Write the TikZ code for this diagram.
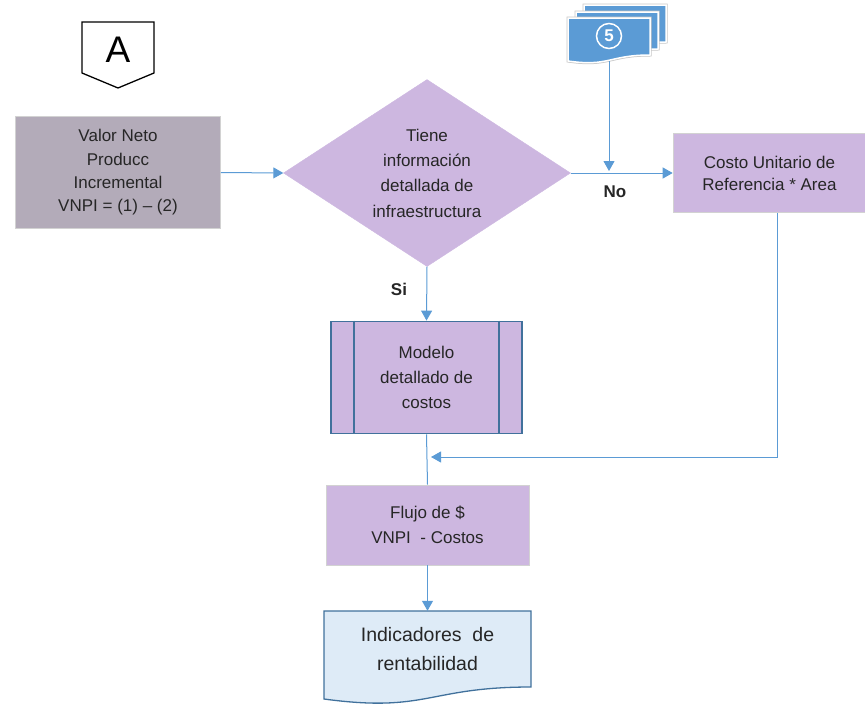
\documentclass[tikz,border=0pt]{standalone}
\usepackage{fontspec}
\setmainfont{Liberation Sans}
\usetikzlibrary{shapes.geometric,arrows.meta}
\definecolor{lineblue}{HTML}{5B9BD5}
\definecolor{lilac}{HTML}{CDB7E0}
\definecolor{valorgray}{HTML}{B3ABB9}
\definecolor{edgeblue}{HTML}{41719C}
\definecolor{paleblue}{HTML}{DEEBF7}
\definecolor{docblue}{HTML}{5B9BD5}
\tikzset{
  txt/.style={font=\fontsize{17}{24}\selectfont, align=center, text=black!85},
  box/.style={txt, rectangle, draw=gray!35, line width=0.6pt, inner sep=0pt},
  flow/.style={draw=lineblue, line width=1pt, -{Triangle[width=11pt,length=10pt]}},
  plain/.style={draw=lineblue, line width=1pt},
  lbl/.style={font=\fontsize{17}{20}\selectfont\bfseries, text=black!85},
  page/.style={fill=docblue, draw=white, line width=1.5pt},
  pageshadow/.style={draw=gray!45, line width=3pt}
}
\begin{document}
\begin{tikzpicture}[x=1pt,y=-1pt]
\useasboundingbox (0,0) rectangle (865,707);

% off-page connector A
\draw[line width=1.3pt, fill=white] (82,22) -- (154,22) -- (154,73) -- (118,88) -- (82,73) -- cycle;
\node[font=\fontsize{37}{37}\selectfont, inner sep=0pt] (offA) at (118,50) {A};

% multi-document 5
\foreach \dx/\dy in {16/-13, 8/-6} {
  \path[pageshadow] (568+\dx,18+\dy) -- (650+\dx,18+\dy) -- (650+\dx,55+\dy)
     .. controls (609+\dx,55+\dy) and (609+\dx,67+\dy) .. (568+\dx,61+\dy) -- cycle;
  \path[page] (568+\dx,18+\dy) -- (650+\dx,18+\dy) -- (650+\dx,55+\dy)
     .. controls (609+\dx,55+\dy) and (609+\dx,67+\dy) .. (568+\dx,61+\dy) -- cycle;
}
\path[pageshadow] (568,18) -- (650,18) -- (650,55) .. controls (609,55) and (609,67) .. (568,61) -- cycle;
\path[page] (568,18) -- (650,18) -- (650,55) .. controls (609,55) and (609,67) .. (568,61) -- cycle;
\node[circle, draw=white, line width=1.5pt, minimum size=25pt, inner sep=0pt,
      font=\fontsize{17}{17}\selectfont\bfseries, text=white] (five) at (609,36) {5};
\coordinate (doc5) at (609,61);

% Valor Neto box
\node[box, fill=valorgray, minimum width=205pt, minimum height=112pt,
      font=\fontsize{17}{23.3}\selectfont] (valor) at (118,172.5)
  {Valor Neto\\Producc\\Incremental\\VNPI = (1) -- (2)};

% diamond
\node[txt, diamond, aspect=1.535, fill=lilac, draw=lilac, minimum width=287pt,
      minimum height=187pt, inner sep=0pt, font=\fontsize{17}{25.3}\selectfont] (dec) at (427,173)
  {Tiene\\información\\detallada de\\infraestructura};

% Costo box
\node[box, fill=lilac, minimum width=193pt, minimum height=79pt,
      font=\fontsize{17}{22}\selectfont] (costo) at (769.5,173)
  {Costo Unitario de\\Referencia * Area};

% Modelo predefined process
\node[txt, rectangle, fill=lilac, draw=edgeblue, line width=1.8pt, minimum width=191pt,
      minimum height=112pt, inner sep=0pt, font=\fontsize{17}{25}\selectfont] (modelo) at (426.5,377.5)
  {Modelo\\detallado de\\costos};
\draw[edgeblue, line width=1.8pt] ([xshift=24pt]modelo.north west) -- ([xshift=24pt]modelo.south west);
\draw[edgeblue, line width=1.8pt] ([xshift=-24pt]modelo.north east) -- ([xshift=-24pt]modelo.south east);

% Flujo box
\node[box, fill=lilac, minimum width=203pt, minimum height=80pt,
      font=\fontsize{17}{25}\selectfont] (flujo) at (427.5,525)
  {Flujo de \$\\VNPI~ - Costos};

% Indicadores document
\path[fill=paleblue, draw=edgeblue, line width=1.3pt]
  (324,611) -- (531,611) -- (531,687) .. controls (427.5,687) and (427.5,713) .. (324,699) -- cycle;
\node[txt, rectangle, inner sep=0pt, minimum width=207pt, minimum height=76pt,
      font=\fontsize{19.5}{29}\selectfont] (ind) at (427.5,649)
  {Indicadores~ de\\rentabilidad};

% connectors
\draw[flow] (valor.east) -- (dec.west);
\draw[flow] (dec.east) -- (costo.west);
\coordinate (join5) at (609,171);
\draw[flow] (doc5) -- (join5);
\node[lbl] (nolbl) at (615,192) {No};
\draw[flow] (dec.south) -- (modelo.north);
\node[lbl] (silbl) at (399,289) {Si};
\draw[plain] (modelo.south) -- (flujo.north);
\coordinate (join2) at (431,457);
\draw[flow] (costo.south -| 777,0) -- (777,457) -- (join2);
\draw[flow] (flujo.south) -- (ind.north);
\end{tikzpicture}
\end{document}
